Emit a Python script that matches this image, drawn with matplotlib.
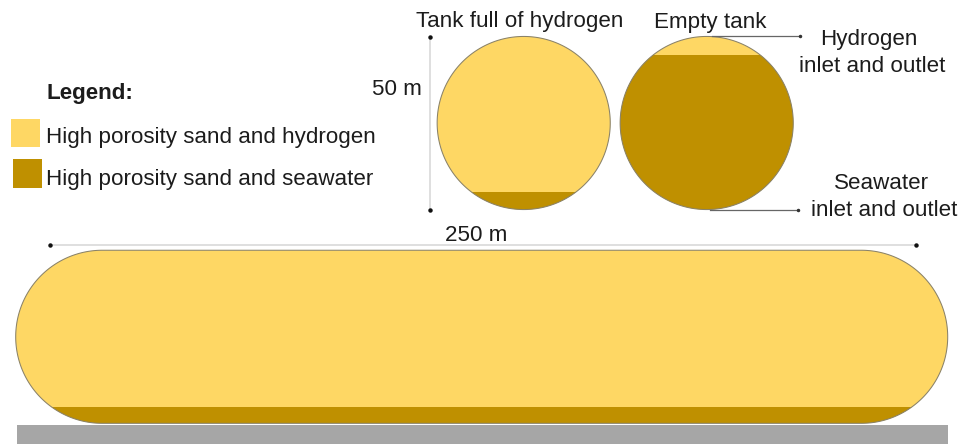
import numpy as np
import matplotlib
matplotlib.use('Agg')
import matplotlib.pyplot as plt
import matplotlib.patches as patches

plt.rcParams['font.family'] = ['Liberation Sans', 'DejaVu Sans']

# Dimensions (m)
tank_diameter = 50
tank_length = 250
dimension_labels = ['50 m', '250 m']

# Share of the tank height filled with seawater
tank_titles = ['Tank full of hydrogen', 'Empty tank']
seawater_share = [0.10, 0.89]
seawater_share_long = 0.097

legend_title = 'Legend:'
legend_labels = ['High porosity sand and hydrogen', 'High porosity sand and seawater']
port_labels = ['Hydrogen\ninlet and outlet', 'Seawater\ninlet and outlet']

HYDROGEN = '#FED764'
SEAWATER = '#BF9000'
EDGE = '#8A8268'
TEXT = '#1C1C1C'
FS = 16.1

PX_PER_M = 3.462  # pixels per metre


def draw_tank(ax, outline, top, height, share):
    # Hydrogen body, seawater layer clipped to the outline, then the edge on top
    body = patches.Polygon(outline, closed=True, facecolor=HYDROGEN, edgecolor='none', zorder=2)
    ax.add_patch(body)
    level = top + height*(1-share)
    water = patches.Rectangle((0, level), 959, top+height-level, facecolor=SEAWATER, edgecolor='none', zorder=3)
    ax.add_patch(water)
    water.set_clip_path(body)
    ax.add_patch(patches.Polygon(outline, closed=True, facecolor='none', edgecolor=EDGE, linewidth=0.75, zorder=4))


def circle_outline(cx, cy, r):
    t = np.linspace(0, 2*np.pi, 361)
    return np.column_stack([cx+r*np.cos(t), cy+r*np.sin(t)])


def capsule_outline(x_left, x_right, cy, r):
    t = np.linspace(-np.pi/2, np.pi/2, 181)
    right = np.column_stack([x_right-r+r*np.cos(t), cy+r*np.sin(t)])
    left = np.column_stack([x_left+r-r*np.cos(t[::-1]), cy+r*np.sin(t[::-1])])
    return np.vstack([right, left])


def dimension_line(ax, x0, y0, x1, y1):
    ax.plot([x0, x1], [y0, y1], color='#DCDCDC', linewidth=1.3, zorder=1, solid_capstyle='butt')
    ax.plot([x0, x1], [y0, y1], linestyle='none', marker='o', markersize=2.2, color='#111111', zorder=5)


fig = plt.figure(figsize=(9.59, 4.44), dpi=100)
ax = fig.add_axes([0, 0, 1, 1])
ax.set_xlim(0, 959)
ax.set_ylim(444, 0)
ax.axis('off')

d_px = tank_diameter*PX_PER_M
r_px = d_px/2

# Two cross sections
draw_tank(ax, circle_outline(523.7, 123, r_px), 123-r_px, d_px, seawater_share[0])
draw_tank(ax, circle_outline(706.7, 123, r_px), 123-r_px, d_px, seawater_share[1])

# Long section
long_cy = 336.8
draw_tank(ax, capsule_outline(15.7, 947.7, long_cy, r_px), long_cy-r_px, d_px, seawater_share_long)

# Ground
ax.add_patch(patches.Rectangle((16.5, 425), 931, 19, facecolor='#A6A6A6', edgecolor='none'))

# Dimension lines
dimension_line(ax, 430, 37, 430, 37+d_px)
dimension_line(ax, 50, 245, 50+tank_length*PX_PER_M, 245)
ax.text(396.5, 95, dimension_labels[0], fontsize=FS, color=TEXT, ha='center', va='baseline')
ax.text(476.5, 241, dimension_labels[1], fontsize=FS, color=TEXT, ha='center', va='baseline')

# Inlet and outlet leaders
ax.plot([712, 800], [36, 36], color='#666666', linewidth=0.9, zorder=5)
ax.plot([710, 798], [209.5, 209.5], color='#666666', linewidth=0.9, zorder=5)
ax.plot([800, 798], [36, 209.5], linestyle='none', marker='o', markersize=1.5, color='#333333', zorder=5)

# Titles
ax.text(519.5, 27, tank_titles[0], fontsize=FS, color=TEXT, ha='center', va='baseline')
ax.text(710, 28, tank_titles[1], fontsize=FS, color=TEXT, ha='center', va='baseline')

hydrogen_lines = port_labels[0].split('\n')
seawater_lines = port_labels[1].split('\n')
ax.text(869, 45, hydrogen_lines[0], fontsize=FS, color=TEXT, ha='center', va='baseline')
ax.text(872, 72, hydrogen_lines[1], fontsize=FS, color=TEXT, ha='center', va='baseline')
ax.text(881, 189, seawater_lines[0], fontsize=FS, color=TEXT, ha='center', va='baseline')
ax.text(884, 216, seawater_lines[1], fontsize=FS, color=TEXT, ha='center', va='baseline')

# Legend
ax.text(47, 99, legend_title, fontsize=FS, fontweight='bold', color=TEXT, va='baseline')
ax.add_patch(patches.Rectangle((11, 119), 28.5, 28, facecolor=HYDROGEN, edgecolor='none'))
ax.add_patch(patches.Rectangle((13, 159), 29, 29, facecolor=SEAWATER, edgecolor='none'))
ax.text(46, 143, legend_labels[0], fontsize=FS, color=TEXT, va='baseline')
ax.text(46, 185, legend_labels[1], fontsize=FS, color=TEXT, va='baseline')

fig.savefig('out.png', dpi=100)
